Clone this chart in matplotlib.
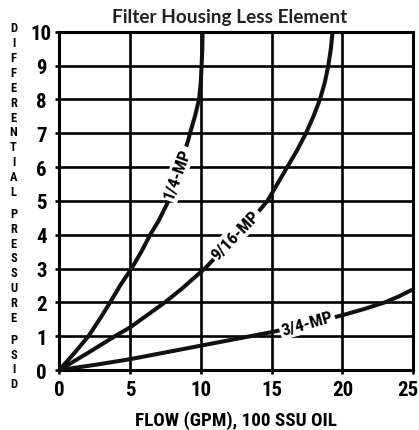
import numpy as np
import matplotlib.pyplot as plt
from matplotlib.transforms import ScaledTranslation

# curves: flow (GPM) vs differential pressure (PSID)
flow_quarter = [0, 1, 2.06, 3, 3.59, 4.3, 5.1, 5.8, 6.42, 7.0, 7.6, 8.35,
                9.11, 9.23, 9.58, 9.87, 9.99, 10.05, 10.1, 10.12]
dp_quarter = [0, 0.47, 1, 1.6, 2, 2.5, 3, 3.5, 4, 4.4, 4.9, 5.8,
              6.8, 7.0, 7.5, 8.0, 8.5, 9.0, 9.5, 10]

flow_nine16 = [0, 2, 3.93, 5, 6.2, 7.46, 8.7, 10, 10.4, 11.4, 12.4, 13.6,
               14.7, 15.4, 16.1, 16.8, 17.42, 17.95, 18.41, 18.75, 19.0, 19.18, 19.3]
dp_nine16 = [0, 0.5, 1, 1.26, 1.62, 2, 2.42, 2.9, 3.05, 3.5, 3.95, 4.45,
             5.0, 5.5, 6.0, 6.5, 7.0, 7.5, 8.0, 8.5, 9.0, 9.5, 10]

flow_three4 = [0, 2.5, 5, 7.5, 10, 12.5, 15, 17.5, 20, 21.5, 23, 24, 25]
dp_three4 = [0, 0.15, 0.32, 0.52, 0.72, 0.92, 1.12, 1.36, 1.62, 1.8, 2.0, 2.18, 2.39]

curve_names = ["1/4-MP", "9/16-MP", "3/4-MP"]
x_ticks = [0, 5, 10, 15, 20, 25]
y_ticks = list(range(0, 11))

plt.rcParams['font.family'] = ['Roboto Condensed', 'Open Sans Condensed', 'DejaVu Sans']
plt.rcParams['font.stretch'] = 'condensed'
plt.rcParams['font.weight'] = 'bold'

fig = plt.figure(figsize=(4.19, 4.31), dpi=100)
ax = fig.add_axes([0.1415, 0.1392, 0.8449, 0.7849])

ax.set_xlim(0, 25)
ax.set_ylim(0, 10)
ax.set_xticks(x_ticks)
ax.set_yticks(y_ticks)
ax.grid(True, color='black', linewidth=1.9, zorder=1)
ax.set_axisbelow(True)
for s in ax.spines.values():
    s.set_linewidth(2.2)
    s.set_color('black')

ax.tick_params(axis='both', direction='out', length=3, width=1.9,
               labelsize=15, colors='black')
ax.tick_params(axis='y', pad=10)
ax.tick_params(axis='x', pad=4.5)
plt.setp(ax.get_yticklabels(), ha='center', fontweight='bold')
plt.setp(ax.get_xticklabels(), fontweight='bold')
# last x label sits on the figure edge, nudge it in a little
last = ax.get_xticklabels()[-1]
last.set_transform(last.get_transform() + ScaledTranslation(-5 / 100, 0, fig.dpi_scale_trans))

lw = 2.9
ax.plot(flow_quarter, dp_quarter, color='#111111', lw=lw, zorder=3, solid_capstyle='butt')
ax.plot(flow_nine16, dp_nine16, color='#111111', lw=lw, zorder=3, solid_capstyle='butt')
ax.plot(flow_three4, dp_three4, color='#111111', lw=lw, zorder=3, solid_capstyle='butt')

box = dict(facecolor='white', edgecolor='none', pad=1.5)
label_pos = [(8.35, 5.8, 70), (12.45, 4.0, 46), (17.5, 1.38, 16)]
for name, (lx, ly, rot) in zip(curve_names, label_pos):
    ax.text(lx, ly, name, rotation=rot, rotation_mode='anchor', ha='center',
            va='center', fontsize=12.5, fontweight='bold', bbox=box, zorder=4)

ax.set_xlabel("FLOW (GPM), 100 SSU OIL", fontsize=13.8, fontweight='bold', labelpad=8)

fig.text(230 / 419, 1 - 22.7 / 431, "Filter Housing Less Element",
         family=['Lato', 'DejaVu Sans'], stretch='normal', fontsize=13.7,
         fontweight='bold', color='#222222', ha='center', va='baseline')

# stacked vertical axis title
words = ["DIFFERENTIAL", "PRESSURE", "PSID"]
y0 = 29.0
pitch = 14.85
gap = 22.0
for w in words:
    for i, ch in enumerate(w):
        fig.text(13.5 / 419, 1 - (y0 + i * pitch) / 431, ch, fontsize=9,
                 fontweight='bold', ha='center', va='center')
    y0 = y0 + (len(w) - 1) * pitch + gap

fig.savefig("out.png", dpi=100)
